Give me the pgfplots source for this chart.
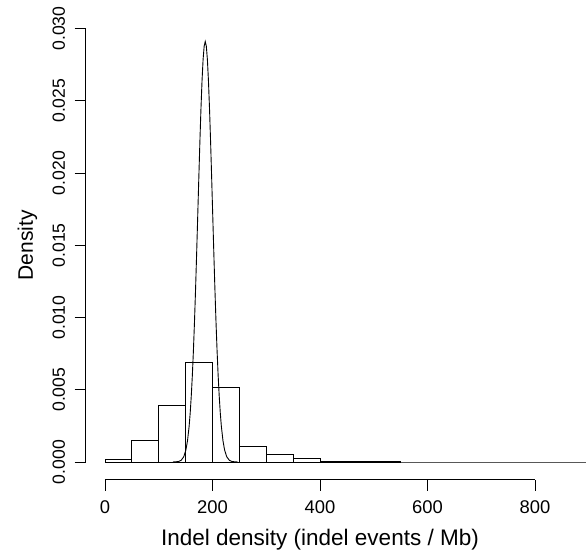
\documentclass[border=0pt]{standalone}
\usepackage{fontspec}
\setmainfont{Liberation Sans}
\usepackage{pgfplots}
\pgfplotsset{compat=1.18}

\begin{document}
\begin{tikzpicture}
\useasboundingbox (-105bp,-89bp) rectangle (481bp,462bp);
\begin{axis}[
  scale only axis,
  width=430bp, height=433.5bp,
  xmin=0, xmax=800, ymin=0, ymax=0.030,
  clip=false,
  axis lines=left,
  axis line style={-, line width=0.9bp},
  axis x line shift=17.5bp,
  axis y line shift=19.3bp,
  tick align=outside,
  major tick length=11bp,
  tick style={line width=0.9bp, black},
  xtick={0,200,400,600,800},
  ytick={0,0.005,0.010,0.015,0.020,0.025,0.030},
  scaled y ticks=false,
  /pgf/number format/assume math mode=true,
  yticklabel style={/pgf/number format/.cd, fixed, fixed zerofill, precision=3, /tikz/.cd,
    rotate=90, anchor=south, inner sep=0pt, font=\fontsize{17.6bp}{21bp}\selectfont},
  xticklabel style={anchor=north, inner sep=0pt, font=\fontsize{18.4bp}{22bp}\selectfont},
  xticklabel shift=9.5bp,
  yticklabel shift=9.5bp,
  every axis x label/.style={at={(axis description cs:0.5,0)}, yshift=-83bp, anchor=base,
    font=\fontsize{22.5bp}{27bp}\selectfont},
  every axis y label/.style={at={(axis description cs:0,0.5)}, xshift=-77.5bp, rotate=90, anchor=center,
    font=\fontsize{21bp}{25bp}\selectfont},
  xlabel={Indel density (indel events / Mb)},
  ylabel={Density},
  no markers,
]
% histogram (density per 50-wide bin)
\addplot[ybar interval, draw=black, fill=white, line width=0.9bp] coordinates {
  (0,0.00019) (50,0.00147) (100,0.00389) (150,0.00686) (200,0.00514)
  (250,0.00106) (300,0.00050) (350,0.00026) (400,0.00005) (450,0.00004)
  (500,0.00002) (550,0) (600,0) (650,0) (700,0) (750,0) (800,0) (850,0) (900,0)
};
% fitted density curve
\addplot[black, line width=0.9bp, sharp plot] coordinates {
  (126.5,0.0000015) (136.5,0.0000306) (141.5,0.000113) (146.5,0.000361)
  (150.5,0.000831) (153.5,0.00147) (156.5,0.00246) (158.5,0.00339)
  (160.5,0.00456) (162.5,0.00599) (164.5,0.00771) (166.5,0.00971)
  (168.5,0.01196) (170.5,0.01442) (172.5,0.01700) (174.5,0.01960)
  (176.5,0.02212) (178.5,0.02441) (180.5,0.02636) (182.5,0.02785)
  (184.5,0.02878) (186.5,0.02910) (188.5,0.02878) (190.5,0.02785)
  (192.5,0.02636) (194.5,0.02441) (196.5,0.02212) (198.5,0.01960)
  (200.5,0.01700) (202.5,0.01442) (204.5,0.01196) (206.5,0.00971)
  (208.5,0.00771) (210.5,0.00599) (212.5,0.00456) (214.5,0.00339)
  (216.5,0.00246) (219.5,0.00147) (222.5,0.000831) (226.5,0.000361)
  (231.5,0.000113) (236.5,0.0000306) (246.5,0.0000015)
};
\end{axis}
\end{tikzpicture}
\end{document}
